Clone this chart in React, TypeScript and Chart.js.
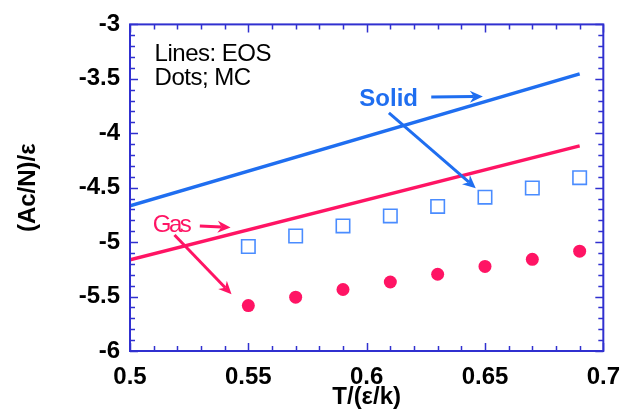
import React, { useEffect, useRef } from "react";
import { Chart, registerables } from "chart.js";

Chart.register(...registerables);

// ---- data ----
const eosT = [0.5, 0.69];
const solidEOS = [-4.667, -3.455];
const gasEOS = [-5.163, -4.116];

const mcT = [0.55, 0.57, 0.59, 0.61, 0.63, 0.65, 0.67, 0.69];
const solidMC = [-5.04, -4.944, -4.851, -4.759, -4.672, -4.587, -4.503, -4.408];
const gasMC = [-5.583, -5.506, -5.435, -5.366, -5.295, -5.223, -5.158, -5.083];

const xTickValues = [0.5, 0.55, 0.6, 0.65, 0.7];
const yTickValues = [-6, -5.5, -5, -4.5, -4, -3.5, -3];

// annotation texts (data coordinates)
const noteLines = ["Lines: EOS", "Dots; MC"];
const noteX = 0.5104;
const noteY = [-3.277, -3.5];
const solidLabel = { text: "Solid", x: 0.5969, y: -3.6875 };
const gasLabel = { text: "Gas", x: 0.5096, y: -4.848 };
// arrows: [x0, y0, x1, y1] in data units
const solidArrows = [
  [0.6273, -3.668, 0.6491, -3.662],
  [0.6094, -3.8125, 0.6461, -4.504],
];
const gasArrows = [
  [0.5295, -4.851, 0.5425, -4.866],
  [0.5188, -4.935, 0.5429, -5.479],
];

const BLUE = "#1f6ef0";
const SQ = "#4a8cff";
const RED = "#ff1464";
const AXIS = "#3030d0";
const FONT = "'Liberation Sans', Arial, sans-serif";

function drawArrow(ctx: CanvasRenderingContext2D, x0: number, y0: number, x1: number, y1: number, color: string) {
  const ang = Math.atan2(y1 - y0, x1 - x0);
  const L = 13;
  const W = 6;
  const notch = 9;
  ctx.save();
  ctx.strokeStyle = color;
  ctx.fillStyle = color;
  ctx.lineWidth = 3;
  ctx.lineCap = "butt";
  ctx.beginPath();
  ctx.moveTo(x0, y0);
  ctx.lineTo(x1 - Math.cos(ang) * notch, y1 - Math.sin(ang) * notch);
  ctx.stroke();
  const cos = Math.cos(ang), sin = Math.sin(ang);
  const bx = x1 - cos * L, by = y1 - sin * L;
  ctx.beginPath();
  ctx.moveTo(x1, y1);
  ctx.lineTo(bx - sin * W, by + cos * W);
  ctx.lineTo(x1 - cos * notch, y1 - sin * notch);
  ctx.lineTo(bx + sin * W, by - cos * W);
  ctx.closePath();
  ctx.fill();
  ctx.restore();
}

const framePlugin = {
  id: "frameTicks",
  afterDraw(chart: any) {
    const { ctx, chartArea } = chart;
    const xs = chart.scales.x;
    const ys = chart.scales.y;
    const { left, right, top, bottom } = chartArea;
    ctx.save();
    ctx.strokeStyle = AXIS;
    ctx.lineWidth = 2;
    ctx.strokeRect(left, top, right - left, bottom - top);
    ctx.lineWidth = 1.5;
    for (let i = 0; i <= 20; i++) {
      const v = 0.5 + i * 0.01;
      const px = Math.round(xs.getPixelForValue(v)) + 0.5;
      const len = i % 5 === 0 ? 8 : 5;
      ctx.beginPath();
      ctx.moveTo(px, bottom);
      ctx.lineTo(px, bottom - len);
      ctx.moveTo(px, top);
      ctx.lineTo(px, top + len);
      ctx.stroke();
    }
    for (let i = 0; i <= 30; i++) {
      const v = -6 + i * 0.1;
      const py = Math.round(ys.getPixelForValue(v)) + 0.5;
      const len = i % 5 === 0 ? 8 : 5;
      ctx.beginPath();
      ctx.moveTo(left, py);
      ctx.lineTo(left + len, py);
      ctx.moveTo(right, py);
      ctx.lineTo(right - len, py);
      ctx.stroke();
    }
    ctx.restore();

    // annotations
    ctx.save();
    ctx.textBaseline = "middle";
    ctx.textAlign = "left";
    ctx.fillStyle = "#000";
    ctx.font = `24px ${FONT}`;
    (ctx as any).letterSpacing = "-0.5px";
    noteLines.forEach((t, i) => {
      ctx.fillText(t, xs.getPixelForValue(noteX), ys.getPixelForValue(noteY[i]));
    });
    ctx.fillStyle = BLUE;
    ctx.font = `bold 24px ${FONT}`;
    (ctx as any).letterSpacing = "0px";
    ctx.fillText(solidLabel.text, xs.getPixelForValue(solidLabel.x), ys.getPixelForValue(solidLabel.y));
    ctx.fillStyle = RED;
    ctx.font = `24px ${FONT}`;
    (ctx as any).letterSpacing = "-2.5px";
    ctx.fillText(gasLabel.text, xs.getPixelForValue(gasLabel.x), ys.getPixelForValue(gasLabel.y));
    ctx.restore();
    solidArrows.forEach((a) =>
      drawArrow(ctx, xs.getPixelForValue(a[0]), ys.getPixelForValue(a[1]), xs.getPixelForValue(a[2]), ys.getPixelForValue(a[3]), BLUE)
    );
    gasArrows.forEach((a) =>
      drawArrow(ctx, xs.getPixelForValue(a[0]), ys.getPixelForValue(a[1]), xs.getPixelForValue(a[2]), ys.getPixelForValue(a[3]), RED)
    );
  },
};

export default function App() {
  const ref = useRef<HTMLCanvasElement>(null);
  useEffect(() => {
    document.body.style.margin = "0";
    const toPts = (xs: number[], ys: number[]) => xs.map((x, i) => ({ x, y: ys[i] }));
    const chart = new Chart(ref.current as HTMLCanvasElement, {
      type: "line",
      data: {
        datasets: [
          { data: toPts(eosT, solidEOS), borderColor: BLUE, borderWidth: 3.5, pointRadius: 0, fill: false },
          { data: toPts(eosT, gasEOS), borderColor: RED, borderWidth: 3.5, pointRadius: 0, fill: false },
          {
            data: toPts(mcT, solidMC),
            showLine: false,
            pointStyle: "rect",
            pointRadius: 9.5,
            pointBorderWidth: 1.6,
            pointBorderColor: SQ,
            pointBackgroundColor: "rgba(255,255,255,0)",
          },
          {
            data: toPts(mcT, gasMC),
            showLine: false,
            pointStyle: "circle",
            pointRadius: 6.5,
            pointBorderWidth: 0,
            pointBackgroundColor: RED,
            pointBorderColor: RED,
          },
        ],
      } as any,
      options: {
        animation: false,
        responsive: false,
        maintainAspectRatio: false,
        layout: { padding: { top: 15, right: 23, left: 0, bottom: 0 } },
        plugins: { legend: { display: false }, tooltip: { enabled: false } },
        scales: {
          x: {
            type: "linear",
            min: 0.5,
            max: 0.7,
            afterBuildTicks: (s: any) => {
              s.ticks = xTickValues.map((v) => ({ value: v }));
            },
            afterFit: (s: any) => {
              s.height = 63;
            },
            grid: { display: false, drawTicks: false },
            border: { display: false },
            ticks: {
              autoSkip: false,
              maxRotation: 0,
              padding: 12,
              color: "#000",
              font: { family: FONT, size: 24, weight: "bold" },
              callback: (v: any) => String(parseFloat(Number(v).toFixed(2))),
            },
            title: {
              display: true,
              text: "T/(ε/k)",
              color: "#000",
              font: { family: FONT, size: 24, weight: "bold" },
              padding: { top: 2, bottom: 2 },
            },
          },
          y: {
            type: "linear",
            min: -6,
            max: -3,
            afterBuildTicks: (s: any) => {
              s.ticks = yTickValues.map((v) => ({ value: v }));
            },
            afterFit: (s: any) => {
              s.width = 130;
            },
            grid: { display: false, drawTicks: false },
            border: { display: false },
            ticks: {
              autoSkip: false,
              padding: 10,
              color: "#000",
              font: { family: FONT, size: 24, weight: "bold" },
              callback: (v: any) => String(parseFloat(Number(v).toFixed(2))),
            },
            title: {
              display: true,
              text: "(Ac/N)/ε",
              color: "#000",
              font: { family: FONT, size: 24, weight: "bold" },
              padding: { top: 14, bottom: 4 },
            },
          },
        },
      } as any,
      plugins: [framePlugin],
    });
    return () => chart.destroy();
  }, []);
  return <canvas ref={ref} width={632} height={414} style={{ display: "block" }} />;
}
